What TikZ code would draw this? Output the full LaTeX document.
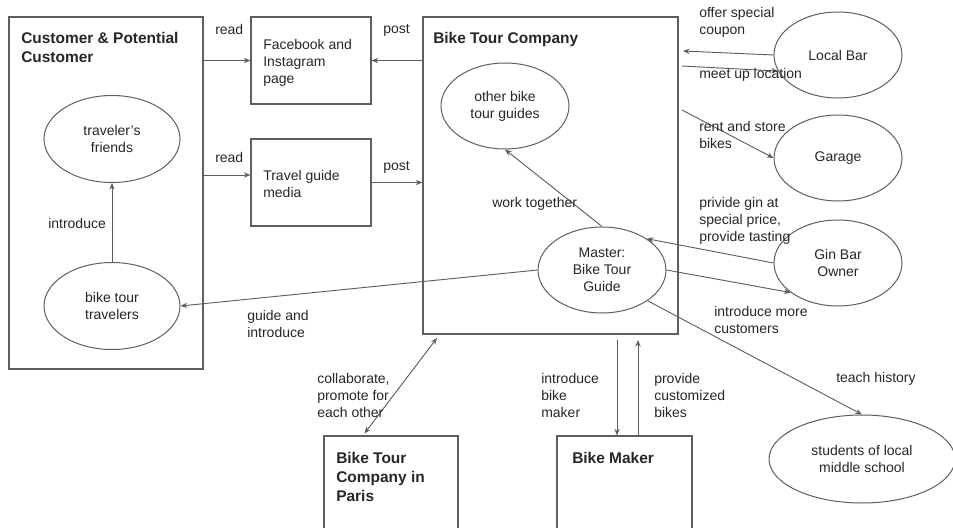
\documentclass[tikz,border=0pt]{standalone}
\usepackage{fontspec}
\setmainfont{Liberation Sans}
\usetikzlibrary{shapes.geometric,arrows.meta,calc}

\definecolor{ink}{HTML}{262626}
\definecolor{edge}{HTML}{5E5E5E}

\tikzset{
  txt/.style={font=\fontsize{10.5}{12.75}\selectfont, text=ink, inner sep=0pt, align=left},
  lbl/.style={txt, anchor=north west},
  ttl/.style={font=\bfseries\fontsize{11.6}{14.25}\selectfont, text=ink, inner sep=0pt, align=left, anchor=north west},
  box/.style={draw=edge, line width=0.8pt, rectangle, inner sep=0pt},
  oval/.style={draw=edge, line width=0.75pt, ellipse, inner sep=0pt, txt, align=center,
               minimum width=96pt, minimum height=64.5pt},
  arr/.style={draw=edge, line width=0.7pt, -{Stealth[length=5pt,width=4pt]}},
  biarr/.style={draw=edge, line width=0.7pt, {Stealth[length=5pt,width=4pt]}-{Stealth[length=5pt,width=4pt]}},
}

\begin{document}
\begin{tikzpicture}[x=0.75pt,y=-0.75pt]
\useasboundingbox (0,0) rectangle (953,528);
\clip (0,0) rectangle (953,528);

% ---- rectangles ----
\node[box, minimum width=145.5pt, minimum height=264pt]    (cust)  at (106,193)   {};
\node[box, minimum width=90pt,    minimum height=65.25pt]  (fb)    at (311,60.5)  {};
\node[box, minimum width=90pt,    minimum height=65.25pt]  (tg)    at (311,182.5) {};
\node[box, minimum width=191.25pt,minimum height=237.75pt] (btc)   at (550.5,175.5) {};
\node[box, minimum width=100.5pt, minimum height=90pt]     (paris) at (391,496)   {};
\node[box, minimum width=101.25pt,minimum height=90pt]     (maker) at (624.5,496) {};

% ---- box titles and texts ----
\node[ttl] (custT)  at (21,32)  {Customer \& Potential\\Customer};
\node[ttl] (btcT)   at (433,32) {Bike Tour Company};
\node[ttl] (parisT) at (336,452) {Bike Tour\\Company in\\Paris};
\node[ttl] (makerT) at (572,452) {Bike Maker};
\node[lbl] (fbT)    at (263,39)  {Facebook and\\Instagram\\page};
\node[lbl] (tgT)    at (263,170) {Travel guide\\media};

% ---- ellipses ----
\node[oval, minimum width=102pt, minimum height=65.25pt] (tf)  at (112,139) {traveler's\\friends};
\node[oval, minimum width=102pt, minimum height=65.25pt] (btt) at (112,306) {bike tour\\travelers};
\node[oval] (other)  at (505,106) {other bike\\tour guides};
\node[oval] (master) at (602,270) {Master:\\Bike Tour\\Guide};
\node[oval] (lb)     at (838,55)  {Local Bar};
\node[oval] (garage) at (838,158) {Garage};
\node[oval] (gin)    at (838,263) {Gin Bar\\Owner};
\node[oval, minimum width=139.5pt, minimum height=66pt] (students) at (862,459) {students of local\\middle school};

% ---- free ends of connectors ----
\coordinate (coupon)  at (683,51);
\coordinate (meet)    at (682,66);
\coordinate (rent)    at (682,110);
\coordinate (collab)  at (437,338);
\coordinate (ibm)     at (617,340);
\coordinate (pcb)     at (638,340);

% ---- connectors ----
\draw[arr] (cust.east |- fb.west) -- (fb.west);
\draw[arr] ($(cust.east |- tg.west)+(0,-7.5)$) -- ($(tg.west)+(0,-7.5)$);
\draw[arr] (btc.west |- fb.east) -- (fb.east);
\draw[arr] (tg.east) -- (tg.east -| btc.west);
\draw[arr] (btt.north) -- (tf.south);
\draw[arr] (master.north) -- (other.south);
\draw[arr] (master.west) -- (btt.east);
\draw[arr] (lb.west) -- (coupon);
\draw[arr] (meet) -- (lb.195);
\draw[arr] (rent) -- (garage.west);
\draw[arr] (gin.west) -- (master.35);
\draw[arr] (master.east) -- (gin.212);
\draw[arr] (master.-34) -- (students.north);
\draw[biarr] (collab) -- ($(paris.north west)+(41,-2)$);
\draw[arr] (ibm) -- (ibm |- maker.north);
\draw[arr] (pcb |- maker.north) -- (pcb);

% ---- connector labels ----
\node[lbl] (read1)  at (215,24)  {read};
\node[lbl] (read2)  at (215,152) {read};
\node[lbl] (post1)  at (383,24)  {post};
\node[lbl] (post2)  at (383,161) {post};
\node[lbl] (intro)  at (48,218)  {introduce};
\node[lbl] (guide)  at (247,310) {guide and\\introduce};
\node[lbl] (work)   at (492,197) {work together};
\node[lbl] (offer)  at (699,7)   {offer special\\coupon};
\node[lbl] (meetT)  at (699,68)  {meet up location};
\node[lbl] (rentT)  at (699,121) {rent and store\\bikes};
\node[lbl] (ginT)   at (699,197) {privide gin at\\special price,\\provide tasting};
\node[lbl] (more)   at (714,306) {introduce more\\customers};
\node[lbl] (collT)  at (317,373) {collaborate,\\promote for\\each other};
\node[lbl] (ibmT)   at (541,373) {introduce\\bike\\maker};
\node[lbl] (pcbT)   at (654,373) {provide\\customized\\bikes};
\node[lbl] (teach)  at (836,372) {teach history};

\end{tikzpicture}
\end{document}
